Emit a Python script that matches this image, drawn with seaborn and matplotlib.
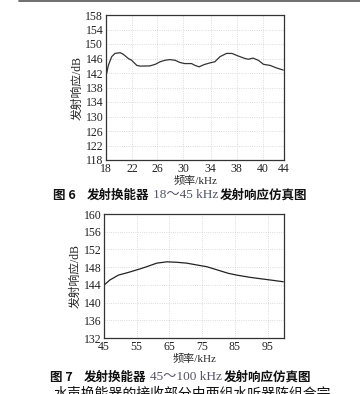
import numpy as np
import pandas as pd
import matplotlib.pyplot as plt
from matplotlib.lines import Line2D
import seaborn as sns

# Fig. 6 data: 18-45 kHz transmit response
freq6 = [18.1, 18.34, 18.83, 19.3, 20.05, 20.5, 21.26, 21.75, 22.5, 22.97, 24.4, 25.2,
         25.9, 26.6, 27.35, 28.1, 28.8, 29.5, 30.5, 31.0, 31.6, 32.3, 33.2, 33.9,
         34.65, 35.6, 36.4, 37.3, 38.3, 38.8, 39.5, 40.25, 41.0, 41.96, 42.9, 43.9]
resp6 = [141.9, 144.1, 146.5, 147.4, 147.6, 147.2, 146.0, 145.5, 144.1, 143.9, 143.95, 144.4,
         145.1, 145.5, 145.7, 145.5, 144.9, 144.6, 144.6, 144.1, 143.7, 144.3, 144.8, 145.1,
         146.5, 147.4, 147.4, 146.7, 146.0, 145.8, 146.1, 145.5, 144.4, 144.1, 143.4, 142.8]
xtick_pos6 = [18, 21.8, 25.45, 29.25, 33.3, 37.1, 40.9, 44]
xtick_lab6 = ['18', '22', '26', '30', '34', '38', '40', '44']
yticks6 = list(range(118, 159, 4))

# Fig. 7 data: 45-100 kHz transmit response
freq7 = [45.1, 46.8, 49.4, 52.4, 56.0, 58.05, 61.1, 64.2, 67.2, 70.3, 73.3, 76.4,
         79.5, 83.0, 85.6, 89.6, 93.7, 96.8, 99.8]
resp7 = [144.0, 145.1, 146.2, 146.8, 147.6, 148.1, 148.9, 149.2, 149.1, 148.9, 148.5, 148.1,
         147.4, 146.6, 146.2, 145.7, 145.3, 145.0, 144.7]
xticks7 = [45, 55, 65, 75, 85, 95]
yticks7 = list(range(132, 161, 4))

# caption pieces: (text, left px, is CJK)
cap6 = [('图 6', 53, True), ('发射换能器', 87, True), ('18～45 kHz', 153, False),
        ('发射响应仿真图', 220, True)]
cap7 = [('图 7', 50, True), ('发射换能器', 84, True), ('45～100 kHz', 150, False),
        ('发射响应仿真图', 224, True)]
body = '水声换能器的接收部分由两组水听器阵组合完'

sns.set_style('white')
plt.rcParams['font.family'] = ['Liberation Serif', 'Noto Sans CJK SC']
plt.rcParams['font.size'] = 8

W, H = 360, 394
fig = plt.figure(figsize=(W / 100, H / 100), dpi=100)


def box(l, t, r, b):
    return [l / W, 1 - b / H, (r - l) / W, (b - t) / H]


ax1 = fig.add_axes(box(106, 15, 284, 160))
ax2 = fig.add_axes(box(104, 214, 284, 338))

df6 = pd.DataFrame({'f': freq6, 'r': resp6})
df7 = pd.DataFrame({'f': freq7, 'r': resp7})
sns.lineplot(data=df6, x='f', y='r', ax=ax1, color='#333333', linewidth=0.9)
sns.lineplot(data=df7, x='f', y='r', ax=ax2, color='#222222', linewidth=0.9)

ax1.set_xlim(18, 44)
ax1.set_ylim(118, 158)
ax1.set_xticks(xtick_pos6)
ax1.set_xticklabels(xtick_lab6)
ax1.set_yticks(yticks6)

ax2.set_xlim(45, 100)
ax2.set_ylim(132, 160)
ax2.set_xticks(xticks7)
ax2.set_yticks(yticks7)

for ax in (ax1, ax2):
    ax.grid(True, linestyle=':', color='#d0d0d0', linewidth=0.6)
    for s in ax.spines.values():
        s.set_color('#333333')
        s.set_linewidth(0.9)
    ax.tick_params(direction='in', length=2, width=0.6, labelsize=8.5,
                   colors='#222222')
    ax.tick_params(axis='y', pad=2)
    ax.tick_params(axis='x', pad=2.5)
    ax.set_xlabel('频率/kHz', fontsize=8, labelpad=0)
    ax.set_ylabel('发射响应/dB', fontsize=8.5, labelpad=1.5)

# page rule at top
fig.add_artist(Line2D([19 / W, 1], [1 - 1 / H, 1 - 1 / H], color='#555555', linewidth=1.2))

for pieces, yc in ((cap6, 195), (cap7, 377)):
    for txt, xl, cjk in pieces:
        if cjk:
            fig.text(xl / W, 1 - yc / H, txt, fontsize=9, fontweight='bold',
                     family=['Noto Sans CJK SC', 'Liberation Serif'],
                     va='center', ha='left', color='#111111')
        else:
            fig.text(xl / W, 1 - yc / H, txt, fontsize=9.5,
                     family=['Liberation Serif', 'Noto Sans CJK SC'],
                     va='center', ha='left', color='#555566')

# cut-off body text at the bottom of the page
fig.text(53 / W, 1 - 387 / H, body, fontsize=10, va='top', ha='left',
         family=['Noto Sans CJK SC'], color='#111111')

fig.savefig('out.png', dpi=100)
